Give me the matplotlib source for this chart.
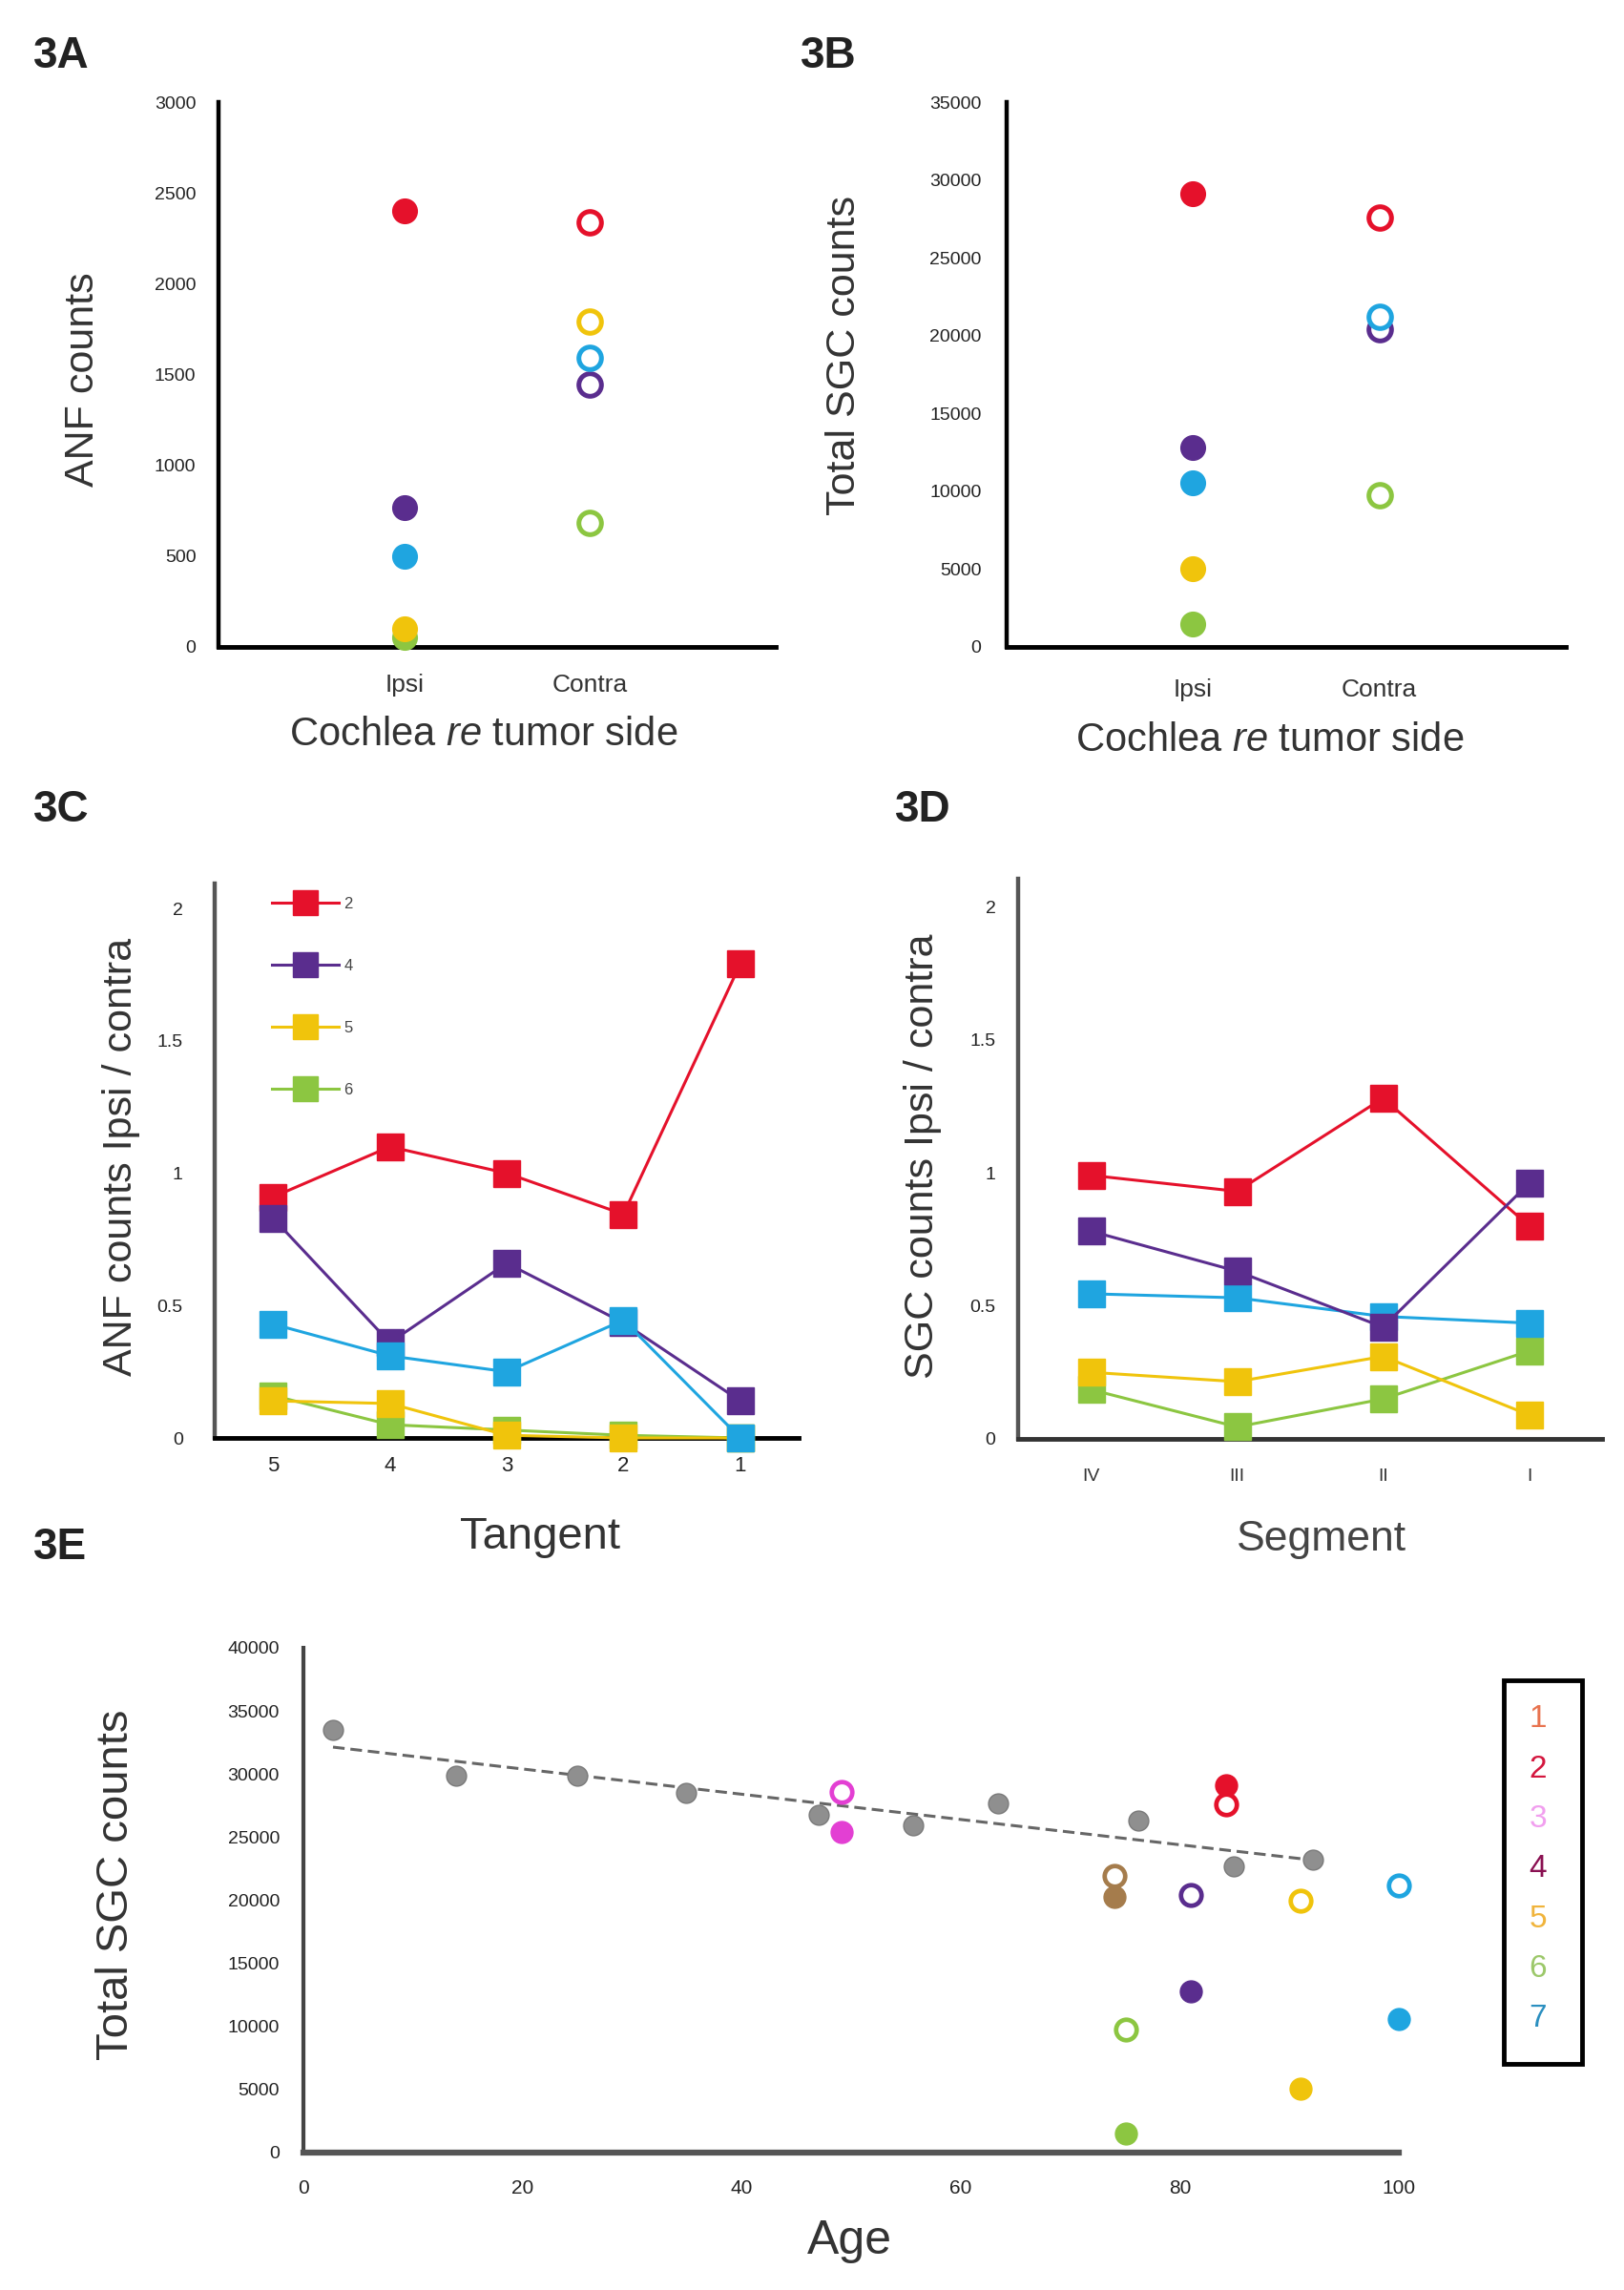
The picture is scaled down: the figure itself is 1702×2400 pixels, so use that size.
import matplotlib
matplotlib.use('Agg')
import matplotlib.pyplot as plt
import numpy as np
from matplotlib.patches import Rectangle

plt.rcParams['font.family'] = ['Liberation Sans', 'DejaVu Sans']
plt.rcParams['mathtext.fontset'] = 'custom'
plt.rcParams['mathtext.rm'] = 'Liberation Sans'
plt.rcParams['mathtext.it'] = 'Liberation Sans:italic'

W, H, DPI = 1702, 2400, 100

# ---------------- data ----------------
patient_ids = ['1', '2', '3', '4', '5', '6', '7']
patient_colors = ['#a57c4c', '#e5112b', '#e33fd3', '#5a2d8e', '#f0c40c', '#8cc641', '#1fa5e0']
legend_text_colors = ['#e8734f', '#d4173f', '#f19fef', '#8a1152', '#f0b43c', '#9cc86a', '#2b8fc0']

side_labels = ['Ipsi', 'Contra']

# 3A  ANF counts
anf_ipsi_patients = ['6', '5', '7', '4', '2']
anf_ipsi = [50, 100, 500, 765, 2400]
anf_contra_patients = ['6', '4', '7', '5', '2']
anf_contra = [685, 1445, 1590, 1790, 2340]

# 3B / 3E  total SGC counts per patient (order of patient_ids)
patient_ages = [74, 84.2, 49.1, 81, 91, 75.1, 100]
sgc_ipsi = [20300, 29100, 25400, 12800, 5050, 1500, 10550]
sgc_contra = [21900, 27600, 28600, 20400, 20000, 9750, 21200]
sgc_b_ipsi_patients = ['6', '5', '7', '4', '2']
sgc_b_contra_patients = ['6', '4', '7', '2']

# 3C  ANF ipsi/contra per tangent
tangent_labels = ['5', '4', '3', '2', '1']
anf_ratio_p6 = [0.16, 0.05, 0.03, 0.01, 0.0]
anf_ratio_p5 = [0.14, 0.13, 0.01, 0.0, 0.0]
anf_ratio_p2 = [0.91, 1.10, 1.00, 0.845, 1.79]
anf_ratio_p4 = [0.83, 0.36, 0.66, 0.435, 0.14]
anf_ratio_p7 = [0.43, 0.31, 0.25, 0.445, 0.0]

# 3D  SGC ipsi/contra per segment
segment_labels = ['IV', 'III', 'II', 'I']
sgc_ratio_p6 = [0.185, 0.045, 0.15, 0.33]
sgc_ratio_p5 = [0.25, 0.215, 0.31, 0.09]
sgc_ratio_p2 = [0.99, 0.93, 1.28, 0.80]
sgc_ratio_p4 = [0.78, 0.63, 0.42, 0.96]
sgc_ratio_p7 = [0.545, 0.53, 0.46, 0.435]

# 3E  normal hearing reference
normal_ages = [2.7, 13.9, 25.0, 34.9, 47.0, 55.7, 63.4, 76.2, 84.9, 92.2]
normal_sgc = [33500, 29900, 29900, 28500, 26800, 25900, 27700, 26300, 22700, 23200]

# ---------------- helpers ----------------
col = dict(zip(patient_ids, patient_colors))
idx = {p: i for i, p in enumerate(patient_ids)}

fig = plt.figure(figsize=(W / DPI, H / DPI), dpi=DPI)
fig.patch.set_facecolor('white')


def add_ax(l, t, r, b):
    return fig.add_axes([l / W, 1 - b / H, (r - l) / W, (b - t) / H])


def style(ax, lcol='black', bcol='black', lw_l=3.2, lw_b=3.5):
    for s in ['top', 'right']:
        ax.spines[s].set_visible(False)
    ax.spines['left'].set_color(lcol)
    ax.spines['left'].set_linewidth(lw_l)
    ax.spines['bottom'].set_color(bcol)
    ax.spines['bottom'].set_linewidth(lw_b)
    ax.tick_params(length=0)


def fig_label(x, y, s, **kw):
    fig.text(x / W, 1 - y / H, s, **kw)


LBL = dict(color='#333333', ha='center', va='center')

# ---------------- 3A ----------------
axA = add_ax(229, 107, 813, 678)
style(axA)
for p, v in zip(anf_ipsi_patients, anf_ipsi):
    axA.plot([0], [v], 'o', ms=18.5, color=col[p], mec=col[p], clip_on=False, zorder=3)
for p, v in zip(anf_contra_patients, anf_contra):
    axA.plot([1], [v], 'o', ms=17, mfc='white', mec=col[p], mew=3.6, clip_on=False, zorder=3)
axA.set_xlim(-1, 2)
axA.set_ylim(0, 3000)
axA.set_yticks(np.arange(0, 3001, 500))
axA.set_xticks([0, 1])
axA.set_xticklabels(side_labels)
axA.tick_params(axis='y', labelsize=14, pad=17, labelcolor='#222222')
axA.tick_params(axis='x', labelsize=19, pad=20, labelcolor='#333333')
fig_label(87, 398, 'ANF counts', fontsize=31, rotation=90, **LBL)
fig_label(507, 770, 'Cochlea $\\mathit{re}$ tumor side', fontsize=30, **LBL)
fig_label(35, 59, '3A', fontsize=33, fontweight='bold', color='#222222', ha='left', va='center')

# ---------------- 3B ----------------
axB = add_ax(1055, 107, 1641, 678)
style(axB)
for p in sgc_b_ipsi_patients:
    axB.plot([0], [sgc_ipsi[idx[p]]], 'o', ms=18.5, color=col[p], mec=col[p], clip_on=False, zorder=3)
for p in sgc_b_contra_patients:
    axB.plot([1], [sgc_contra[idx[p]]], 'o', ms=17, mfc='white', mec=col[p], mew=3.6, clip_on=False, zorder=3)
axB.set_xlim(-1, 2)
axB.set_ylim(0, 35000)
axB.set_yticks(np.arange(0, 35001, 5000))
axB.set_xticks([0, 1])
axB.set_xticklabels(side_labels)
axB.tick_params(axis='y', labelsize=14, pad=19, labelcolor='#222222')
axB.tick_params(axis='x', labelsize=19, pad=24, labelcolor='#333333')
fig_label(885, 372, 'Total SGC counts', fontsize=31, rotation=90, **LBL)
fig_label(1331, 776, 'Cochlea $\\mathit{re}$ tumor side', fontsize=30, **LBL)
fig_label(839, 59, '3B', fontsize=33, fontweight='bold', color='#222222', ha='left', va='center')

# ---------------- 3C ----------------
axC = add_ax(225, 926, 837, 1507)
style(axC, lcol='#555555', bcol='black')
xc = np.arange(len(tangent_labels))
series_c = [('6', anf_ratio_p6, '6'), ('5', anf_ratio_p5, '5'),
            ('2', anf_ratio_p2, '2'), ('4', anf_ratio_p4, '4'),
            ('7', anf_ratio_p7, '_nolegend_')]
handles = {}
for p, vals, lab in series_c:
    ln, = axC.plot(xc, vals, '-s', color=col[p], lw=2.2, ms=20, mec=col[p],
                   clip_on=False, zorder=3, label=lab)
    handles[p] = ln
axC.set_xlim(-0.5, 4.5)
axC.set_ylim(0, 2.094)
axC.set_yticks([0, 0.5, 1, 1.5, 2])
axC.set_yticklabels(['0', '0.5', '1', '1.5', '2'])
axC.set_xticks(xc)
axC.set_xticklabels(tangent_labels)
axC.tick_params(axis='y', labelsize=14, pad=24, labelcolor='#222222')
axC.tick_params(axis='x', labelsize=16, pad=14, labelcolor='#222222')
axC.legend([handles['2'], handles['4'], handles['5'], handles['6']],
           ['2', '4', '5', '6'], loc='upper left', bbox_to_anchor=(0.085, 0.99),
           frameon=False, fontsize=12, handlelength=4.2, handletextpad=0.3,
           labelspacing=3.0, borderpad=0, markerscale=0.95, labelcolor='#444444')
fig_label(127, 1212, 'ANF counts Ipsi / contra', fontsize=31, rotation=90, **LBL)
fig_label(566, 1611, 'Tangent', fontsize=34, **LBL)
fig_label(35, 849, '3C', fontsize=33, fontweight='bold', color='#222222', ha='left', va='center')

# ---------------- 3D ----------------
axD = add_ax(1067, 921, 1679, 1508)
style(axD, lcol='#555555', bcol='#333333')
xd = np.arange(len(segment_labels))
series_d = [('6', sgc_ratio_p6), ('5', sgc_ratio_p5), ('7', sgc_ratio_p7),
            ('2', sgc_ratio_p2), ('4', sgc_ratio_p4)]
for p, vals in series_d:
    axD.plot(xd, vals, '-s', color=col[p], lw=2.2, ms=20, mec=col[p], clip_on=False, zorder=3)
axD.set_xlim(-0.5, 3.5)
axD.set_ylim(0, 2.104)
axD.set_yticks([0, 0.5, 1, 1.5, 2])
axD.set_yticklabels(['0', '0.5', '1', '1.5', '2'])
axD.set_xticks(xd)
axD.set_xticklabels(segment_labels)
axD.tick_params(axis='y', labelsize=14, pad=17, labelcolor='#222222')
axD.tick_params(axis='x', labelsize=14, pad=22, labelcolor='#333333')
fig_label(967, 1212, 'SGC counts Ipsi / contra', fontsize=31, rotation=90, **LBL)
fig_label(1385, 1614, 'Segment', fontsize=32, color='#444444', ha='center', va='center')
fig_label(938, 849, '3D', fontsize=33, fontweight='bold', color='#222222', ha='left', va='center')

# ---------------- 3E ----------------
axE = add_ax(318, 1727, 1466, 2256)
style(axE, lcol='#444444', bcol='#555555', lw_l=3.0, lw_b=4.5)
na = np.array(normal_ages)
coef = np.polyfit(na, np.array(normal_sgc), 1)
xt = np.array([na.min(), na.max()])
axE.plot(xt, np.polyval(coef, xt), '--', color='#666666', lw=2.2, dashes=(4, 2), zorder=2)
axE.plot(normal_ages, normal_sgc, 'o', ms=15, color='#8f8f8f', mec='#7a7a7a', zorder=3)
for i, p in enumerate(patient_ids):
    axE.plot([patient_ages[i]], [sgc_ipsi[i]], 'o', ms=16.5, color=patient_colors[i],
             mec=patient_colors[i], clip_on=False, zorder=4)
    axE.plot([patient_ages[i]], [sgc_contra[i]], 'o', ms=15.5, mfc='white',
             mec=patient_colors[i], mew=3.4, clip_on=False, zorder=5)
axE.set_xlim(0, 100)
axE.set_ylim(0, 40000)
axE.set_xticks(np.arange(0, 101, 20))
axE.set_yticks(np.arange(0, 40001, 5000))
axE.tick_params(axis='y', labelsize=14, pad=18, labelcolor='#222222')
axE.tick_params(axis='x', labelsize=15, pad=20, labelcolor='#222222')
fig_label(122, 1975, 'Total SGC counts', fontsize=34, rotation=90, **LBL)
fig_label(890, 2349, 'Age', fontsize=36, **LBL)
fig_label(35, 1622, '3E', fontsize=33, fontweight='bold', color='#222222', ha='left', va='center')

# patient legend box
fig.add_artist(Rectangle((1576 / W, 1 - 2163 / H), 82 / W, 402 / H, transform=fig.transFigure,
                         fill=False, edgecolor='black', linewidth=3.5))
for i, p in enumerate(patient_ids):
    fig_label(1612, 1802 + i * 52.3, p, fontsize=24, color=legend_text_colors[i],
              ha='center', va='center')

fig.savefig('out.png', dpi=DPI, facecolor='white')
